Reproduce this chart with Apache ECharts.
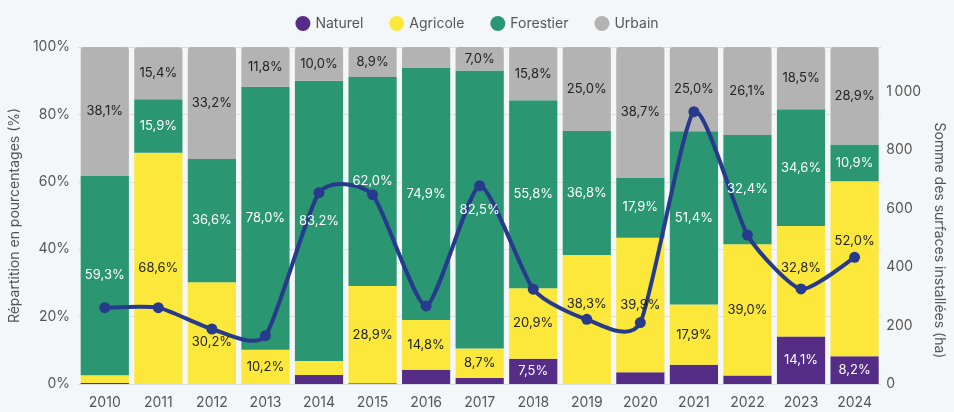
<!DOCTYPE html>
<html>
<head>
<meta charset="utf-8">
<script src="https://cdn.jsdelivr.net/npm/echarts@6/dist/echarts.min.js"></script>
<style>
  html, body { margin: 0; padding: 0; background: #f4f7f9; }
  #main { width: 954px; height: 412px; }
</style>
</head>
<body>
<div id="main"></div>
<script>
// données
var years = ['2010', '2011', '2012', '2013', '2014', '2015', '2016', '2017',
             '2018', '2019', '2020', '2021', '2022', '2023', '2024'];
var naturel   = [0.3, 0, 0, 0, 2.7, 0.2, 4.2, 1.8, 7.5, 0, 3.5, 5.7, 2.5, 14.1, 8.2];
var agricole  = [2.3, 68.6, 30.2, 10.2, 4.1, 28.9, 14.8, 8.7, 20.9, 38.3, 39.9, 17.9, 39.0, 32.8, 52.0];
var forestier = [59.3, 15.9, 36.6, 78.0, 83.2, 62.0, 74.9, 82.5, 55.8, 36.8, 17.9, 51.4, 32.4, 34.6, 10.9];
var urbain    = [38.1, 15.4, 33.2, 11.8, 10.0, 8.9, 6.1, 7.0, 15.8, 25.0, 38.7, 25.0, 26.1, 18.5, 28.9];
var surfaces  = [261, 261, 188, 165, 654, 647, 267, 678, 324, 221, 210, 931, 509, 325, 433];
var pctTicks  = [0, 20, 40, 60, 80, 100];
var haTicks   = [0, 200, 400, 600, 800, 1000];

// petits décalages des étiquettes pour éviter la courbe
var labelNudge = { Agricole: { '2012': 9, '2019': -15, '2023': -13, '2024': -28 } };

var FONT = 'Inter';
var GREY = '#555';
var LINE = '#283a8b';

function pct(v) {
    return v.toFixed(1).replace('.', ',') + '%';
}

function barSeries(name, values, color, textColor, radius) {
    var nudge = labelNudge[name] || {};
    return {
        name: name,
        type: 'bar',
        stack: 'total',
        barCategoryGap: '10%',
        itemStyle: { color: color, borderRadius: radius || 0 },
        label: {
            show: true,
            position: 'inside',
            color: textColor,
            fontFamily: FONT,
            fontSize: 13,
            formatter: function (p) { return p.value >= 7 ? pct(p.value) : ''; }
        },
        data: values.map(function (v, i) {
            var dy = nudge[years[i]];
            return dy ? { value: v, label: { offset: [0, dy] } } : v;
        })
    };
}

// courbe lissée (spline cardinale) tracée segment par segment
function renderCurve(params, api) {
    var i = params.dataIndex;
    var n = surfaces.length;
    function pt(j) {
        j = Math.max(0, Math.min(n - 1, j));
        return api.coord([j, surfaces[j]]);
    }
    var p0 = pt(i);
    var children = [];
    if (i < n - 1) {
        var pp = pt(i - 1), p1 = pt(i + 1), pn = pt(i + 2);
        var k = 0.1;
        children.push({
            type: 'bezierCurve',
            z2: 2,
            shape: {
                x1: p0[0], y1: p0[1], x2: p1[0], y2: p1[1],
                cpx1: p0[0] + (p1[0] - pp[0]) * k,
                cpy1: p0[1] + (p1[1] - pp[1]) * k,
                cpx2: p1[0] - (pn[0] - p0[0]) * k,
                cpy2: p1[1] - (pn[1] - p0[1]) * k
            },
            style: { stroke: LINE, lineWidth: 4, fill: null, lineCap: 'round' }
        });
    }
    children.push({
        type: 'circle',
        z2: 2,
        shape: { cx: p0[0], cy: p0[1], r: 5.5 },
        style: { fill: LINE }
    });
    return { type: 'group', children: children };
}

var option = {
    backgroundColor: '#f4f7f9',
    textStyle: { fontFamily: FONT },
    legend: {
        top: 11,
        left: 'center',
        icon: 'circle',
        itemWidth: 15,
        itemHeight: 15,
        itemGap: 26,
        textStyle: { color: GREY, fontSize: 14, fontFamily: FONT },
        data: ['Naturel', 'Agricole', 'Forestier', 'Urbain']
    },
    grid: { left: 78, right: 54, top: 47, bottom: 28 },
    xAxis: {
        type: 'category',
        data: years,
        axisLine: { show: false },
        axisTick: { show: false },
        axisLabel: { color: GREY, fontSize: 14, fontFamily: FONT, margin: 12 }
    },
    yAxis: [
        {
            type: 'value',
            min: pctTicks[0],
            max: pctTicks[pctTicks.length - 1],
            interval: 20,
            name: 'Répartition en pourcentages (%)',
            nameLocation: 'middle',
            nameGap: 52,
            nameTextStyle: { color: GREY, fontSize: 14, fontFamily: FONT },
            axisLabel: { color: GREY, fontSize: 14, fontFamily: FONT, margin: 8, formatter: '{value}%' },
            splitLine: { lineStyle: { color: '#dcdfe2' } }
        },
        {
            type: 'value',
            min: haTicks[0],
            max: 1152,
            interval: 200,
            name: 'Somme des surfaces installées (ha)',
            nameLocation: 'middle',
            nameRotate: -90,
            nameGap: 40,
            nameTextStyle: { color: GREY, fontSize: 14, fontFamily: FONT, padding: [0, 0, 0, 50] },
            splitLine: { show: false },
            axisLabel: {
                color: GREY, fontSize: 14, fontFamily: FONT, margin: 5,
                padding: [0, 0, 9, 0],
                formatter: function (v) {
                    if (haTicks.indexOf(v) < 0) return '';
                    return v >= 1000 ? '1\u2009000' : String(v);
                }
            }
        }
    ],
    series: [
        barSeries('Naturel', naturel, '#552d87', '#ffffff'),
        barSeries('Agricole', agricole, '#fbe83b', '#222222'),
        barSeries('Forestier', forestier, '#2a9672', '#ffffff'),
        barSeries('Urbain', urbain, '#b3b3b3', '#222222', [3, 3, 0, 0]),
        {
            name: 'Surfaces',
            type: 'custom',
            yAxisIndex: 1,
            z: 2,
            renderItem: renderCurve,
            encode: { x: 0, y: 1 },
            data: surfaces.map(function (v, i) { return [i, v]; })
        }
    ]
};

var myChart = echarts.init(document.getElementById('main'));
myChart.setOption(option);
</script>
</body>
</html>
